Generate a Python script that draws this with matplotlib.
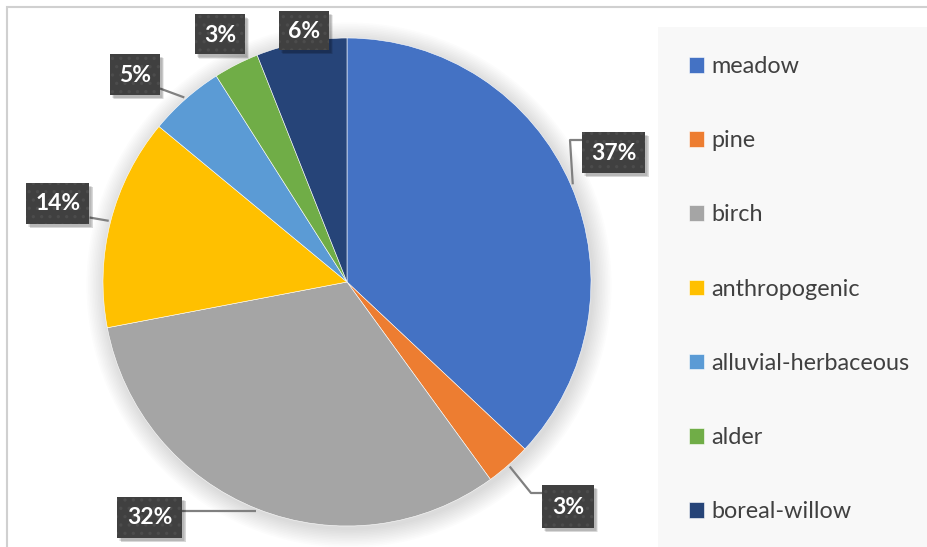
import numpy as np
import matplotlib
matplotlib.use("Agg")
import matplotlib.pyplot as plt
from matplotlib.patches import Rectangle, Circle

W, H = 927, 547

categories = ["meadow", "pine", "birch", "anthropogenic",
              "alluvial-herbaceous", "alder", "boreal-willow"]
shares = [37, 3, 32, 14, 5, 3, 6]
colors = ["#4472C4", "#ED7D31", "#A5A5A5", "#FFC000",
          "#5B9BD5", "#70AD47", "#264478"]

# label boxes: centre (px), size (px), optional elbow point for the leader line
label_boxes = [
    ((614, 152), (63, 41), (570, 140)),
    ((568, 506), (52, 43), (531, 493)),
    ((150, 517), (65, 41), None),
    ((58, 203), (63, 41), None),
    ((135, 74), (50, 41), None),
    ((220, 34), (50, 40), "none"),
    ((304, 30), (50, 39), "none"),
]

plt.rcParams["hatch.linewidth"] = 1.2


def py(y):
    return H - y


fig = plt.figure(figsize=(W / 100, H / 100), dpi=100)
ax = fig.add_axes([0, 0, 1, 1])
ax.set_xlim(0, W)
ax.set_ylim(0, H)
ax.set_aspect("equal")
ax.axis("off")

# outer chart border
ax.add_patch(Rectangle((7, py(560)), 960, 553, fill=False,
                       edgecolor="#d0d0d0", lw=1.5, clip_on=False))

# legend background
ax.add_patch(Rectangle((658, py(560)), 300, 533, facecolor="#f8f8f8",
                       edgecolor="none", zorder=0))

cx, cy, r = 347, py(282), 244

# soft shadow behind the pie
for i in range(12):
    ax.add_patch(Circle((cx + 2, cy - 3), r + 1 + i * 1.6, facecolor="k",
                        alpha=0.010, edgecolor="none", zorder=1))

wedges, _ = ax.pie(shares, colors=colors, startangle=90, counterclock=False,
                   center=(cx, cy), radius=r, frame=True,
                   wedgeprops=dict(edgecolor="white", linewidth=0.4, zorder=2))
ax.set_xlim(0, W)
ax.set_ylim(0, H)
ax.axis("off")

for w, val, (ctr, size, elbow) in zip(wedges, shares, label_boxes):
    bx, by = ctr[0], py(ctr[1])
    bw, bh = size
    mid = np.deg2rad((w.theta1 + w.theta2) / 2)
    ax_pt = (cx + (r + 2) * np.cos(mid), cy + (r + 2) * np.sin(mid))
    if elbow != "none":
        if elbow is None:
            # straight line to nearest side of the box
            sx = bx + bw / 2 if ax_pt[0] > bx else bx - bw / 2
            sy = min(max(ax_pt[1], by - bh / 2 + 6), by + bh / 2 - 6)
            xs, ys = [sx, ax_pt[0]], [sy, ax_pt[1]]
        else:
            ex, ey = elbow[0], py(elbow[1])
            sx = bx - bw / 2
            xs, ys = [sx, ex, ax_pt[0]], [ey, ey, ax_pt[1]]
        ax.plot(xs, ys, color="#808080", lw=1.6, zorder=3, solid_capstyle="butt")
    # shadow of the box
    for k in range(4):
        ax.add_patch(Rectangle((bx - bw / 2 + 2 + k * 0.6, by - bh / 2 - 3 - k * 0.6),
                               bw, bh, facecolor="k", alpha=0.08,
                               edgecolor="none", zorder=4))
    ax.add_patch(Rectangle((bx - bw / 2, by - bh / 2), bw, bh,
                           facecolor="#404040", edgecolor="#4c4c4c", hatch="..",
                           lw=0, zorder=5))
    ax.text(bx, by - 1, f"{val}%", color="white", fontsize=16.5, fontweight="bold",
            family="Lato", ha="center", va="center", zorder=6)

leg = ax.legend(wedges, categories, loc="upper left",
                bbox_to_anchor=(689 / W, py(56) / H), bbox_transform=fig.transFigure,
                frameon=False, labelspacing=2.28,
                handlelength=0.64, handleheight=0.64, handletextpad=0.3,
                borderpad=0, borderaxespad=0,
                prop=dict(family="Lato", size=16.8))
for t in leg.get_texts():
    t.set_color("#404040")

fig.savefig("out.png", dpi=100)
